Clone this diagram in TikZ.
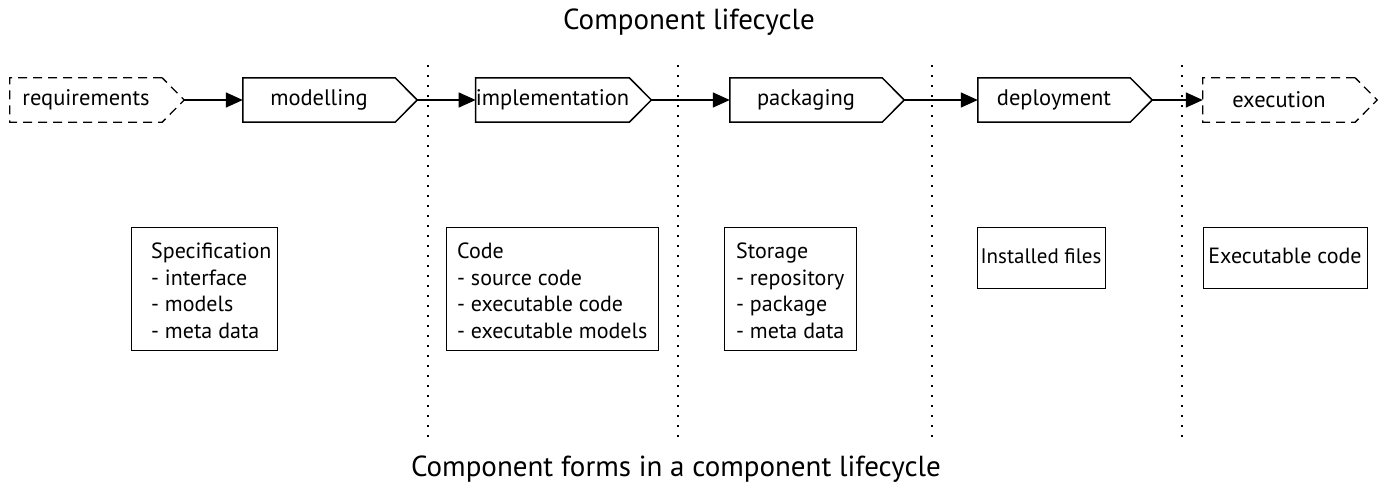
\documentclass[tikz,border=0pt]{standalone}
\usepackage{fontspec}
\setmainfont{PT Sans}
\usetikzlibrary{arrows.meta,calc}
\begin{document}
\begin{tikzpicture}[x=1pt,y=-1pt,
  stagebox/.style={minimum width=152pt,minimum height=44pt,inner sep=0pt,font=\fontsize{22.5}{26}\selectfont},
  outline/.style={line width=1.5pt,line join=miter},
  dashedoutline/.style={line width=1.3pt,dash pattern=on 9pt off 6pt},
  flow/.style={line width=1.4pt,-{Triangle[length=17pt,width=15pt]}},
  sep/.style={line width=1.3pt,dash pattern=on 2pt off 8pt},
  formbox/.style={draw,line width=1.4pt,inner sep=0pt,anchor=north west},
  formtext/.style={anchor=north west,align=left,inner sep=0pt,font=\fontsize{22}{26.5}\selectfont},
  titletext/.style={font=\fontsize{29}{33}\selectfont}]
\useasboundingbox (0,0) rectangle (1385,493);

% titles
\node[titletext] (top) at (689,22) {Component lifecycle};
\node[titletext] (bottom) at (676,469) {Component forms in a component lifecycle};

% separators
\foreach \x [count=\i] in {428,678,932,1182}{
  \coordinate (s\i a) at (\x,65);
  \coordinate (s\i b) at (\x,438);
  \draw[sep] (s\i a) -- (s\i b);
}

% stages
\node[stagebox] (req) at (86,100) {requirements};
\node[stagebox] (mod) at (319,100) {modelling};
\node[stagebox] (impl) at (552.5,100) {implementation};
\node[stagebox] (pack) at (806,100) {packaging};
\node[stagebox] (dep) at (1054,100) {deployment};
\node[stagebox] (exe) at (1279,100) {execution};

\foreach \n in {req,mod,impl,pack,dep,exe}{
  \coordinate (\n tip) at ($(\n.east)+(22,0)$);
}
\draw[dashedoutline] (req.north east) -- (req.north west) -- (req.south west) -- (req.south east) -- (reqtip) -- cycle;
\foreach \n in {mod,impl,pack,dep}{
  \draw[outline] (\n.north east) -- (\n.north west) -- (\n.south west) -- (\n.south east) -- (\n tip) -- cycle;
}
\draw[dashedoutline] (exe.north east) -- (exe.north west) -- (exe.south west) -- (exe.south east) -- (exetip) -- cycle;

% connectors
\draw[flow] (reqtip) -- (mod.west);
\draw[flow] (modtip) -- (impl.west);
\draw[flow] (impltip) -- (pack.west);
\draw[flow] (packtip) -- (dep.west);
\draw[flow] (deptip) -- (exe.west);

% component forms
\node[formbox,minimum width=146pt,minimum height=123pt] (spec) at (131,227) {};
\node[formtext] (spectext) at (151,243) {Specification\\- interface\\- models\\- meta data};
\node[formbox,minimum width=212pt,minimum height=123pt] (code) at (446,227) {};
\node[formtext] (codetext) at (457,243) {Code\\- source code\\- executable code\\- executable models};
\node[formbox,minimum width=132pt,minimum height=123pt] (stor) at (724,227) {};
\node[formtext] (stortext) at (736,243) {Storage\\- repository\\- package\\- meta data};
\node[formbox,minimum width=128pt,minimum height=61pt] (inst) at (977,227) {};
\node[font=\fontsize{21}{25}\selectfont] (insttext) at (1041,256) {Installed files};
\node[formbox,minimum width=164pt,minimum height=61pt] (exec) at (1203,227) {};
\node[font=\fontsize{22}{26}\selectfont] (exectext) at (1285,256) {Executable code};
\end{tikzpicture}
\end{document}
